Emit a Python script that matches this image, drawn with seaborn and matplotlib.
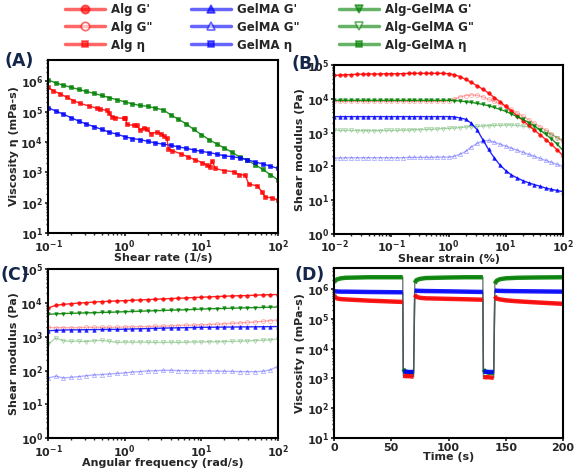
import numpy as np
import matplotlib
matplotlib.use("Agg")
import matplotlib.pyplot as plt
from matplotlib.lines import Line2D
import seaborn as sns

### (A) viscosity vs shear rate
rate = [0.1, 0.126, 0.158, 0.2, 0.251, 0.316, 0.398, 0.501, 0.631, 0.794, 1.0,
        1.26, 1.58, 2.0, 2.51, 3.16, 3.98, 5.01, 6.31, 7.94, 10.0,
        12.6, 15.8, 20.0, 25.1, 31.6, 39.8, 50.1, 63.1, 79.4, 100.0]
gelma_eta = [1.35e5, 1.05e5, 8.3e4, 6.3e4, 4.9e4, 3.9e4, 3.2e4, 2.6e4, 2.1e4, 1.8e4, 1.5e4,
             1.3e4, 1.2e4, 1.05e4, 9.3e3, 8.5e3, 7.8e3, 6.9e3, 6.2e3, 5.5e3, 4.9e3,
             4.5e3, 4.0e3, 3.5e3, 3.3e3, 3.0e3, 2.6e3, 2.2e3, 1.9e3, 1.6e3, 1.35e3]
mix_eta = [1.1e6, 8.9e5, 7.4e5, 6.3e5, 5.4e5, 4.6e5, 4.0e5, 3.4e5, 2.9e5, 2.45e5, 2.1e5,
           1.8e5, 1.6e5, 1.5e5, 1.3e5, 1.15e5, 7.9e4, 5.6e4, 4.0e4, 2.6e4, 1.75e4,
           1.2e4, 8.7e3, 6.3e3, 4.6e3, 3.2e3, 2.5e3, 1.8e3, 1.25e3, 850, 560]
alg_rate = [0.1, 0.117, 0.145, 0.178, 0.214, 0.263, 0.339, 0.437, 0.479, 0.589, 0.617,
            0.676, 0.759, 0.977, 1.02, 1.07, 1.32, 1.45, 1.58, 1.78, 1.95, 2.19, 2.63,
            2.95, 3.24, 3.55, 3.72, 4.17, 5.37, 6.76, 8.32, 10.2, 11.7, 12.9, 13.8, 15.1,
            19.5, 26.3, 30.9, 37.2, 41.7, 53.7, 61.7, 67.6, 83.2, 100.0]
alg_eta = [6.3e5, 4.9e5, 3.8e5, 2.95e5, 2.3e5, 1.86e5, 1.55e5, 1.29e5, 1.2e5, 1.1e5, 9.3e4,
           6.8e4, 6.3e4, 6.0e4, 6.3e4, 3.8e4, 3.5e4, 3.5e4, 2.45e4, 2.95e4, 2.6e4, 1.9e4, 2.1e4,
           1.9e4, 1.6e4, 1.35e4, 5.9e3, 5.2e3, 4.1e3, 3.2e3, 2.6e3, 2.1e3, 1.75e3, 1.5e3, 2.45e3, 1.35e3,
           1.15e3, 1.05e3, 850, 810, 410, 360, 230, 155, 145, 120]

### (B) amplitude sweep
strain = [0.01, 0.0126, 0.0158, 0.02, 0.0251, 0.0316, 0.0398, 0.0501, 0.0631, 0.0794,
          0.1, 0.126, 0.158, 0.2, 0.251, 0.316, 0.398, 0.501, 0.631, 0.794,
          1.0, 1.26, 1.58, 2.0, 2.51, 3.16, 3.98, 5.01, 6.31, 7.94,
          10.0, 12.6, 15.8, 20.0, 25.1, 31.6, 39.8, 50.1, 63.1, 79.4, 100.0]
alg_g1_b = [5.0e4, 5.1e4, 5.25e4, 5.25e4, 5.4e4, 5.4e4, 5.5e4, 5.5e4, 5.5e4, 5.6e4,
            5.6e4, 5.6e4, 5.6e4, 5.75e4, 5.75e4, 5.75e4, 5.75e4, 5.75e4, 5.75e4, 5.75e4,
            5.6e4, 5.25e4, 4.6e4, 3.8e4, 3.1e4, 2.45e4, 1.95e4, 1.5e4, 1.1e4, 8.3e3,
            6.0e3, 4.4e3, 3.2e3, 2.3e3, 1.65e3, 1.2e3, 870, 630, 450, 310, 210]
alg_g2_b = [8.5e3, 8.5e3, 8.5e3, 8.5e3, 8.5e3, 8.5e3, 8.5e3, 8.5e3, 8.5e3, 8.5e3,
            8.5e3, 8.5e3, 8.5e3, 8.5e3, 8.5e3, 8.5e3, 8.5e3, 8.5e3, 8.5e3, 8.5e3,
            8.9e3, 1.0e4, 1.15e4, 1.26e4, 1.32e4, 1.29e4, 1.15e4, 9.8e3, 8.5e3, 7.2e3,
            6.0e3, 4.9e3, 3.9e3, 3.1e3, 2.45e3, 1.9e3, 1.5e3, 1.2e3, 910, 710, 550]
gel_g1_b = [3.0e3, 3.0e3, 3.0e3, 3.0e3, 3.0e3, 3.0e3, 3.0e3, 3.0e3, 3.0e3, 3.0e3,
            3.0e3, 3.0e3, 3.0e3, 3.0e3, 3.0e3, 3.0e3, 3.0e3, 3.0e3, 3.0e3, 3.0e3,
            3.0e3, 2.95e3, 2.75e3, 2.5e3, 1.9e3, 1.23e3, 620, 320, 180, 110,
            76, 56, 46, 38, 33, 29, 26, 23, 21, 19.5, 18]
gel_g2_b = [178, 178, 182, 182, 182, 182, 182, 182, 182, 182,
            182, 182, 182, 186, 186, 186, 186, 186, 190, 190,
            190, 200, 230, 280, 380, 480, 575, 590, 525, 457,
            400, 347, 302, 263, 229, 200, 174, 151, 132, 115, 100]
mix_g1_b = [9.1e3, 9.1e3, 9.1e3, 9.1e3, 9.1e3, 9.1e3, 9.1e3, 9.1e3, 9.1e3, 9.1e3,
            9.1e3, 9.1e3, 9.1e3, 9.1e3, 9.1e3, 9.1e3, 9.1e3, 9.1e3, 9.1e3, 9.1e3,
            9.1e3, 8.9e3, 8.7e3, 8.3e3, 7.9e3, 7.4e3, 6.9e3, 6.3e3, 5.6e3, 4.9e3,
            4.3e3, 3.6e3, 3.0e3, 2.5e3, 2.0e3, 1.6e3, 1.2e3, 890, 660, 460, 300]
mix_g2_b = [1.2e3, 1.17e3, 1.17e3, 1.17e3, 1.15e3, 1.15e3, 1.15e3, 1.15e3, 1.15e3, 1.17e3,
            1.17e3, 1.17e3, 1.2e3, 1.2e3, 1.23e3, 1.23e3, 1.26e3, 1.26e3, 1.29e3, 1.32e3,
            1.35e3, 1.38e3, 1.41e3, 1.48e3, 1.51e3, 1.55e3, 1.58e3, 1.62e3, 1.66e3, 1.66e3,
            1.7e3, 1.7e3, 1.66e3, 1.58e3, 1.48e3, 1.35e3, 1.17e3, 1.02e3, 870, 720, 600]

### (C) frequency sweep
freq = [0.1, 0.126, 0.158, 0.2, 0.251, 0.316, 0.398, 0.501, 0.631, 0.794, 1.0,
        1.26, 1.58, 2.0, 2.51, 3.16, 3.98, 5.01, 6.31, 7.94, 10.0,
        12.6, 15.8, 20.0, 25.1, 31.6, 39.8, 50.1, 63.1, 79.4, 100.0]
alg_g1_c = [7.1e3, 8.5e3, 9.1e3, 9.5e3, 1.0e4, 1.02e4, 1.07e4, 1.1e4, 1.12e4, 1.15e4, 1.17e4,
            1.2e4, 1.23e4, 1.26e4, 1.29e4, 1.32e4, 1.35e4, 1.38e4, 1.41e4, 1.45e4, 1.48e4,
            1.51e4, 1.55e4, 1.58e4, 1.62e4, 1.64e4, 1.66e4, 1.7e4, 1.74e4, 1.76e4, 1.78e4]
alg_g2_c = [1.9e3, 1.85e3, 1.85e3, 1.85e3, 1.85e3, 1.9e3, 1.9e3, 1.9e3, 1.9e3, 1.9e3, 1.95e3,
            1.95e3, 2.0e3, 2.0e3, 2.05e3, 2.05e3, 2.1e3, 2.15e3, 2.2e3, 2.2e3, 2.25e3,
            2.3e3, 2.35e3, 2.4e3, 2.5e3, 2.55e3, 2.65e3, 2.75e3, 2.85e3, 3.0e3, 3.15e3]
gel_g1_c = [1.5e3, 1.55e3, 1.58e3, 1.6e3, 1.6e3, 1.62e3, 1.63e3, 1.64e3, 1.65e3, 1.65e3, 1.67e3,
            1.7e3, 1.72e3, 1.75e3, 1.77e3, 1.8e3, 1.82e3, 1.84e3, 1.86e3, 1.88e3, 1.9e3,
            1.91e3, 1.92e3, 1.93e3, 1.94e3, 1.95e3, 1.96e3, 1.97e3, 1.98e3, 1.99e3, 2.0e3]
gel_g2_c = [60, 68, 60, 63, 66, 70, 74, 76, 79, 82, 85,
            90, 93, 97, 99, 101, 101, 100, 99, 98, 98,
            97, 96, 95, 94, 93, 93, 92, 95, 104, 135]
mix_g1_c = [4.6e3, 4.75e3, 4.85e3, 4.95e3, 5.0e3, 5.1e3, 5.15e3, 5.25e3, 5.3e3, 5.4e3, 5.5e3,
            5.6e3, 5.7e3, 5.8e3, 5.9e3, 6.0e3, 6.1e3, 6.2e3, 6.3e3, 6.45e3, 6.6e3,
            6.7e3, 6.8e3, 6.9e3, 7.0e3, 7.1e3, 7.2e3, 7.3e3, 7.4e3, 7.5e3, 7.6e3]
mix_g2_c = [600, 920, 760, 730, 740, 720, 760, 780, 740, 680, 700,
            690, 700, 690, 680, 680, 690, 680, 690, 700, 700,
            710, 710, 720, 730, 740, 750, 770, 790, 810, 850]

### (D) recovery test
time = [0, 1, 3, 6, 10, 20, 30, 45, 60, 60.5, 62, 65, 69.5, 70.5, 72, 75, 80, 90, 100, 115,
        130, 130.5, 132, 135, 139.5, 140.5, 142, 145, 150, 160, 175, 200]
mix_eta_t = [1.65e6, 1.95e6, 2.15e6, 2.3e6, 2.4e6, 2.45e6, 2.5e6, 2.5e6, 2.5e6, 2.1e3, 1.7e3, 1.6e3,
             1.55e3, 1.6e6, 2.0e6, 2.2e6, 2.35e6, 2.4e6, 2.45e6, 2.5e6, 2.5e6, 2.0e3, 1.7e3, 1.55e3,
             1.5e3, 1.5e6, 1.9e6, 2.15e6, 2.3e6, 2.4e6, 2.45e6, 2.5e6]
gel_eta_t = [8.6e5, 8.4e5, 8.3e5, 8.2e5, 8.2e5, 8.1e5, 8.0e5, 7.9e5, 7.8e5, 1.7e3, 1.7e3, 1.65e3,
             1.65e3, 8.9e5, 8.8e5, 8.7e5, 8.6e5, 8.5e5, 8.4e5, 8.2e5, 8.0e5, 1.7e3, 1.7e3, 1.65e3,
             1.65e3, 9.0e5, 8.8e5, 8.7e5, 8.6e5, 8.5e5, 8.4e5, 8.2e5]
alg_eta_t = [6.3e5, 5.3e5, 4.8e5, 4.6e5, 4.5e5, 4.3e5, 4.1e5, 3.9e5, 3.7e5, 1.25e3, 1.2e3, 1.2e3,
             1.15e3, 6.5e5, 5.5e5, 5.1e5, 4.9e5, 4.8e5, 4.7e5, 4.55e5, 4.4e5, 1.15e3, 1.1e3, 1.1e3,
             1.05e3, 5.8e5, 4.8e5, 4.5e5, 4.2e5, 3.9e5, 3.6e5, 3.2e5]
# index ranges of the plateaus (high / low shear steps)
plateaus = [(0, 9), (9, 13), (13, 21), (21, 25), (25, 32)]

RED, BLUE, GREEN = "#ff0000", "#0000ff", "#008000"

sns.set_theme(style="ticks")
plt.rcParams["font.family"] = ["DejaVu Sans"]
plt.rcParams["font.weight"] = "bold"
plt.rcParams["axes.labelweight"] = "bold"
plt.rcParams["axes.linewidth"] = 1.5
plt.rcParams["xtick.major.size"] = 2.5
plt.rcParams["ytick.major.size"] = 2.5
plt.rcParams["xtick.minor.size"] = 1.3
plt.rcParams["ytick.minor.size"] = 1.3
plt.rcParams["xtick.labelsize"] = 8
plt.rcParams["ytick.labelsize"] = 8

fig = plt.figure(figsize=(5.75, 4.69), dpi=100)
axA = fig.add_axes([0.0835, 0.503, 0.400, 0.369])
axB = fig.add_axes([0.581, 0.501, 0.398, 0.360])
axC = fig.add_axes([0.0835, 0.066, 0.400, 0.360])
axD = fig.add_axes([0.581, 0.066, 0.398, 0.362])


def filled(ax, x, y, color, marker, ms=2.6):
    sns.lineplot(x=x, y=y, ax=ax, color=color, marker=marker, markersize=ms,
                 markeredgewidth=0.4, markeredgecolor=color, linewidth=1.0,
                 alpha=0.85, estimator=None)


def hollow(ax, x, y, color, marker, ms=3.0):
    sns.lineplot(x=x, y=y, ax=ax, color=color, marker=marker, markersize=ms,
                 markerfacecolor="none", markeredgewidth=0.6, markeredgecolor=color,
                 linewidth=1.0, alpha=0.3, estimator=None)


# (A)
filled(axA, rate, mix_eta, GREEN, "s", 2.2)
filled(axA, rate, gelma_eta, BLUE, "s", 2.2)
filled(axA, alg_rate, alg_eta, RED, "s", 2.2)
axA.set_xscale("log")
axA.set_yscale("log")
axA.set_xlim(0.1, 100)
axA.set_ylim(10, 5e6)
axA.set_xlabel("Shear rate (1/s)")
axA.set_ylabel("Viscosity η (mPa-s)")

# (B)
hollow(axB, strain, alg_g2_b, RED, "o")
hollow(axB, strain, gel_g2_b, BLUE, "^")
hollow(axB, strain, mix_g2_b, GREEN, "v")
filled(axB, strain, alg_g1_b, RED, "o")
filled(axB, strain, mix_g1_b, GREEN, "v")
filled(axB, strain, gel_g1_b, BLUE, "^")
axB.set_xscale("log")
axB.set_yscale("log")
axB.set_xlim(0.01, 100)
axB.set_ylim(1, 1e5)
axB.set_xlabel("Shear strain (%)")
axB.set_ylabel("Shear modulus (Pa)")

# (C)
hollow(axC, freq, alg_g2_c, RED, "o")
hollow(axC, freq, gel_g2_c, BLUE, "^")
hollow(axC, freq, mix_g2_c, GREEN, "v")
filled(axC, freq, alg_g1_c, RED, "o")
filled(axC, freq, mix_g1_c, GREEN, "v")
filled(axC, freq, gel_g1_c, BLUE, "^")
axC.set_xscale("log")
axC.set_yscale("log")
axC.set_xlim(0.1, 100)
axC.set_ylim(1, 1e5)
axC.set_xlabel("Angular frequency (rad/s)")
axC.set_ylabel("Shear modulus (Pa)")

# (D) thin connecting line plus thick plateaus
for series, color in [(mix_eta_t, GREEN), (gel_eta_t, BLUE), (alg_eta_t, RED)]:
    sns.lineplot(x=time, y=series, ax=axD, color="#4a5a5a", linewidth=1.0, alpha=0.8,
                 estimator=None)
for series, color in [(mix_eta_t, GREEN), (gel_eta_t, BLUE), (alg_eta_t, RED)]:
    for i0, i1 in plateaus:
        sns.lineplot(x=time[i0:i1], y=series[i0:i1], ax=axD, color=color, linewidth=3.2,
                     alpha=0.9, estimator=None, solid_capstyle="butt")
axD.set_yscale("log")
axD.set_xlim(0, 200)
axD.set_ylim(10, 5e6)
axD.set_xticks([0, 50, 100, 150, 200])
axD.set_xlabel("Time (s)")
axD.set_ylabel("Viscosity η (mPa-s)")

for ax in [axA, axB, axC, axD]:
    for sp in ax.spines.values():
        sp.set_visible(True)
        sp.set_color("black")
    for lab in ax.get_xticklabels() + ax.get_yticklabels():
        lab.set_fontweight("bold")
    ax.tick_params(which="both", direction="out", pad=1)
    ax.xaxis.label.set_size(8)
    ax.yaxis.label.set_size(8)
    ax.xaxis.labelpad = -1
    ax.yaxis.labelpad = 1

panel_color = "#14264a"
fig.text(0.008, 0.869, "(A)", fontsize=12.5, fontweight="bold", color=panel_color, va="center")
fig.text(0.507, 0.863, "(B)", fontsize=12.5, fontweight="bold", color=panel_color, va="center")
fig.text(0.001, 0.414, "(C)", fontsize=12.5, fontweight="bold", color=panel_color, va="center")
fig.text(0.512, 0.413, "(D)", fontsize=12.5, fontweight="bold", color=panel_color, va="center")

# legend
names = ["Alg G'", 'Alg G"', "Alg η", "GelMA G'", 'GelMA G"', "GelMA η",
         "Alg-GelMA G'", 'Alg-GelMA G"', "Alg-GelMA η"]
colors = [RED] * 3 + [BLUE] * 3 + [GREEN] * 3
markers = ["o", "o", "s", "^", "^", "s", "v", "v", "s"]
handles = []
for i, (c, m) in enumerate(zip(colors, markers)):
    open_marker = i % 3 == 1
    handles.append(Line2D([0], [0], color=c, alpha=0.6, linewidth=2.5, marker=m,
                          markersize=6 if i % 3 != 2 else 5,
                          markerfacecolor="white" if open_marker else c,
                          markeredgecolor=c, markeredgewidth=1.2))
fig.legend(handles, names, ncol=3, loc="upper center", bbox_to_anchor=(0.468, 1.017),
           frameon=False, prop={"weight": "bold", "size": 8.5}, handlelength=3.4,
           labelspacing=0.42, columnspacing=3.3, handletextpad=0.5)

fig.savefig("out.png", dpi=100)
